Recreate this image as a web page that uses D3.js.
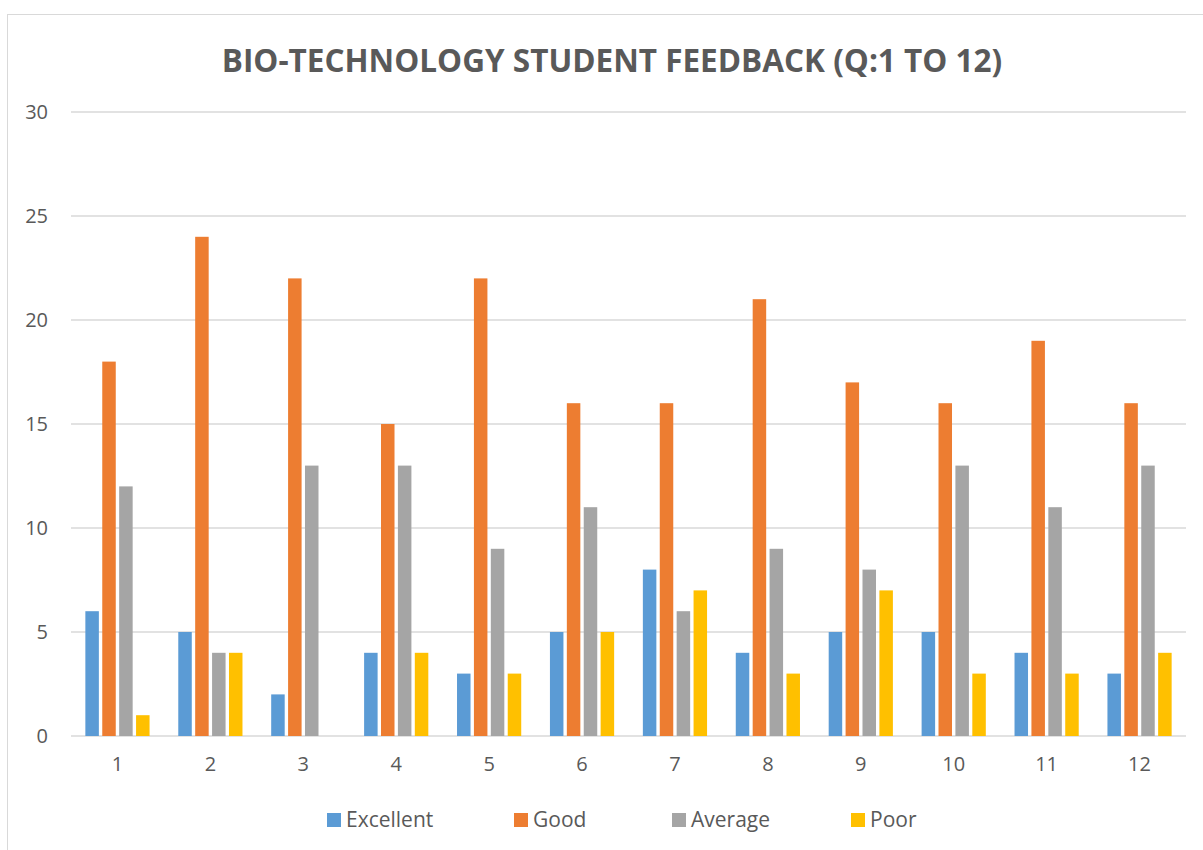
<!DOCTYPE html>
<html lang="en">
<head>
    <meta charset="UTF-8">
    <title>Bio-Technology Student Feedback</title>
    <script src="https://d3js.org/d3.v7.min.js"></script>
    <style>
        body { margin: 0; background: #fff; }
        text { font-family: "Open Sans", "DejaVu Sans", sans-serif; fill: #595959; }
    </style>
</head>
<body>
    <div id="chart"></div>
    <script>
        const questions = ["1", "2", "3", "4", "5", "6", "7", "8", "9", "10", "11", "12"];
        const seriesNames = ["Excellent", "Good", "Average", "Poor"];
        const excellent = [6, 5, 2, 4, 3, 5, 8, 4, 5, 5, 4, 3];
        const good = [18, 24, 22, 15, 22, 16, 16, 21, 17, 16, 19, 16];
        const average = [12, 4, 13, 13, 9, 11, 6, 9, 8, 13, 11, 13];
        const poor = [1, 4, 0, 4, 3, 5, 7, 3, 7, 3, 3, 4];
        const yTicks = [0, 5, 10, 15, 20, 25, 30];
        const colors = ["#5B9BD5", "#ED7D31", "#A5A5A5", "#FFC000"];

        const w = 1203;
        const h = 850;
        const plotLeft = 71, plotRight = 1186, plotTop = 112, plotBottom = 736;

        const values = [excellent, good, average, poor];
        const data = questions.map((q, i) => ({
            q: q,
            vals: seriesNames.map((s, j) => ({ key: s, value: values[j][i] }))
        }));

        const svg = d3.select('#chart')
            .append('svg')
            .attr("width", w)
            .attr("height", h);

        // chart frame
        svg.append('rect')
            .attr("x", 7.5).attr("y", 14.5)
            .attr("width", 1300).attr("height", 1000)
            .attr("fill", "none")
            .attr("stroke", "#d9d9d9");

        const x0 = d3.scaleBand()
            .domain(questions)
            .range([plotLeft, plotRight]);
        const groupW = 67.6;
        const x1 = d3.scaleBand()
            .domain(seriesNames)
            .range([(x0.bandwidth() - groupW) / 2, (x0.bandwidth() + groupW) / 2]);
        const yScale = d3.scaleLinear()
            .domain([0, 30])
            .range([plotBottom, plotTop]);

        // gridlines
        svg.append('g')
            .selectAll('line')
            .data(yTicks)
            .enter()
            .append('line')
            .attr("x1", plotLeft).attr("x2", plotRight)
            .attr("y1", d => yScale(d)).attr("y2", d => yScale(d))
            .attr("stroke", "#d9d9d9")
            .attr("stroke-width", 1.3);

        // y axis labels
        const yAxis = d3.axisLeft(yScale).tickValues(yTicks).tickSize(0).tickPadding(23);
        svg.append('g')
            .attr("transform", "translate(" + plotLeft + ",0)")
            .call(yAxis)
            .call(g => g.select(".domain").remove())
            .selectAll("text")
            .style("font-size", "20px")
            .attr("fill", "#595959");

        // bars
        svg.append('g')
            .selectAll('g')
            .data(data)
            .enter()
            .append('g')
            .attr("transform", d => "translate(" + x0(d.q) + ",0)")
            .selectAll('rect')
            .data(d => d.vals)
            .enter()
            .append('rect')
            .attr("x", d => x1(d.key) + 1.7)
            .attr("width", x1.bandwidth() - 3.4)
            .attr("y", d => yScale(d.value))
            .attr("height", d => plotBottom - yScale(d.value))
            .attr("fill", (d, i) => colors[i]);

        // x axis labels
        const xAxis = d3.axisBottom(x0).tickSize(0).tickPadding(21);
        svg.append('g')
            .attr("transform", "translate(0," + plotBottom + ")")
            .call(xAxis)
            .call(g => g.select(".domain").remove())
            .selectAll("text")
            .style("font-size", "20px")
            .attr("fill", "#595959");

        // title
        svg.append('text')
            .attr("x", 612)
            .attr("y", 72)
            .attr("text-anchor", "middle")
            .style("font-size", "31.5px")
            .style("font-weight", "bold")
            .text("BIO-TECHNOLOGY STUDENT FEEDBACK (Q:1 TO 12)");

        // legend
        const legendX = [327, 514, 672, 851];
        const legend = svg.append('g')
            .selectAll('g')
            .data(seriesNames)
            .enter()
            .append('g')
            .attr("transform", (d, i) => "translate(" + legendX[i] + ",813)");
        legend.append('rect')
            .attr("width", 14).attr("height", 14)
            .attr("fill", (d, i) => colors[i]);
        legend.append('text')
            .attr("x", 19).attr("y", 14)
            .style("font-size", "21px")
            .text(d => d);
    </script>
</body>
</html>
